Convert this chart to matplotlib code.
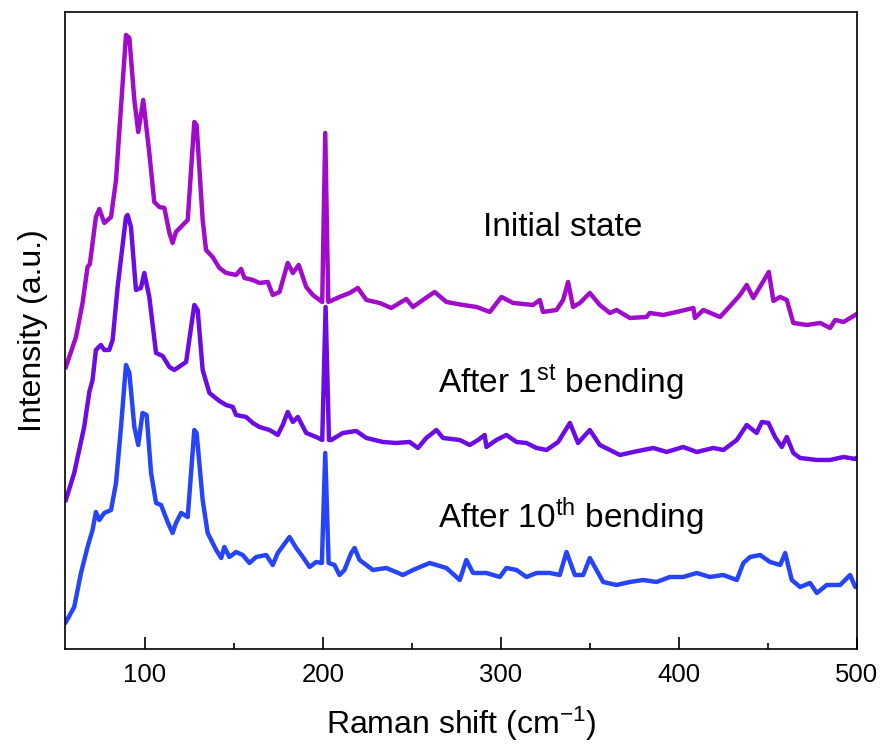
import matplotlib
matplotlib.use("Agg")
import matplotlib.pyplot as plt
from matplotlib.ticker import MultipleLocator

plt.rcParams['font.family'] = ['Liberation Sans', 'DejaVu Sans']
plt.rcParams['mathtext.fontset'] = 'custom'
plt.rcParams['mathtext.rm'] = 'Liberation Sans'
plt.rcParams['mathtext.it'] = 'Liberation Sans:italic'
plt.rcParams['mathtext.bf'] = 'Liberation Sans:bold'

# ---- data (Raman shift in cm^-1, stacked intensity in a.u.) ----
x_init = [55.5, 61.2, 64.9, 67.7, 69.0, 72.4, 74.3, 77.1, 80.9, 83.7, 86.5, 89.3, 91.2, 94.0, 96.2,
          99.0, 102.4, 105.2, 108.0, 110.9, 113.7, 115.5, 117.4, 124.0, 127.7, 129.0, 132.4, 134.3,
          138.0, 141.8, 145.6, 151.2, 154.0, 155.9, 160.6, 164.3, 169.0, 171.8, 175.6, 180.2, 183.1,
          186.4, 190.6, 194.3, 199.6, 201.3, 203.0, 205.6, 209.3, 215.0, 219.6, 224.4, 231.9, 238.4,
          243.1, 246.9, 250.6, 256.2, 262.8, 269.4, 278.7, 286.3, 293.8, 300.3, 306.9, 318.1, 321.9,
          323.7, 331.3, 335.0, 337.8, 340.6, 344.4, 350.0, 355.6, 361.3, 365.0, 372.5, 381.9, 383.7,
          391.3, 398.8, 408.2, 409.1, 413.8, 423.2, 427.9, 434.4, 438.2, 441.9, 445.6, 450.6, 453.2,
          457.0, 460.7, 464.4, 472.0, 479.5, 485.1, 487.9, 492.6, 499.2, 500.0]
y_init = [282, 312, 346, 382, 385, 432, 440, 426, 432, 469, 542, 614, 611, 549, 517,
          549, 496, 447, 442, 441, 416, 406, 417, 429, 527, 524, 429, 399,
          392, 381, 376, 374, 380, 371, 369, 366, 367, 354, 357, 386, 376,
          384, 362, 354, 347, 516, 347, 349, 352, 356, 361, 349, 346, 341,
          346, 350, 342, 349, 357, 347, 344, 342, 337, 352, 346, 344, 349,
          337, 339, 349, 367, 342, 346, 356, 344, 336, 339, 331, 332, 336,
          334, 337, 341, 331, 339, 332, 341, 354, 364, 351, 362, 377, 348,
          352, 349, 326, 324, 326, 321, 329, 327, 334, 335]

x_1st = [55.5, 60.2, 65.8, 68.7, 70.5, 72.4, 75.2, 77.1, 79.9, 81.8, 84.6, 89.3, 90.2, 92.1, 94.9,
         97.7, 99.6, 102.4, 106.2, 109.9, 113.7, 116.5, 123.1, 127.7, 129.6, 132.4, 136.2, 141.8,
         145.6, 149.3, 151.2, 156.8, 160.6, 164.3, 170.0, 174.6, 177.4, 180.2, 183.1, 185.9, 190.6,
         196.2, 199.6, 201.5, 203.4, 204.7, 211.2, 218.7, 224.4, 233.7, 241.2, 248.7, 253.4, 258.1,
         263.8, 267.5, 276.9, 282.5, 287.2, 290.9, 291.9, 297.5, 303.1, 308.8, 314.4, 320.0, 325.7,
         332.2, 338.8, 343.4, 350.0, 355.6, 361.3, 366.9, 374.4, 385.7, 393.2, 402.5, 410.1, 419.4,
         425.1, 432.6, 438.2, 443.8, 446.7, 450.4, 454.1, 457.9, 460.7, 464.4, 468.2, 477.6, 485.1,
         492.6, 499.2, 500.0]
y_1st = [149, 176, 222, 257, 269, 299, 304, 299, 299, 309, 362, 432, 434, 422, 359,
         361, 376, 352, 296, 293, 282, 279, 287, 344, 339, 279, 256, 248,
         244, 242, 234, 232, 226, 222, 219, 214, 224, 237, 227, 232, 216,
         212, 209, 342, 209, 209, 216, 218, 211, 207, 206, 207, 201, 211,
         219, 211, 209, 204, 209, 214, 202, 209, 214, 207, 206, 201, 199,
         207, 226, 206, 219, 204, 199, 194, 197, 201, 197, 202, 197, 201,
         199, 209, 224, 216, 227, 226, 212, 202, 212, 196, 191, 189, 189,
         192, 190, 191]

x_10th = [55.5, 60.2, 64.0, 67.7, 70.5, 72.4, 74.3, 77.1, 80.9, 83.7, 86.5, 89.3, 91.2, 94.0, 96.2,
          98.6, 100.9, 103.4, 106.2, 109.0, 112.7, 115.5, 117.4, 120.3, 124.0, 127.7, 129.0, 132.4,
          135.2, 140.0, 142.8, 144.6, 147.4, 151.2, 154.9, 158.7, 162.5, 168.1, 171.8, 174.6, 181.2,
          185.0, 188.7, 192.5, 196.2, 199.4, 201.3, 203.2, 206.5, 209.3, 212.1, 215.9, 217.8, 220.6,
          228.1, 235.6, 245.0, 250.6, 260.0, 269.4, 276.9, 280.6, 284.4, 291.9, 299.4, 303.1, 308.8,
          314.4, 320.0, 327.5, 333.1, 336.9, 341.6, 346.3, 350.0, 354.7, 357.5, 365.0, 372.5, 380.0,
          387.5, 395.0, 402.5, 410.1, 417.5, 425.0, 432.6, 436.3, 440.1, 445.7, 451.3, 457.0, 459.8,
          463.5, 468.2, 473.8, 477.6, 483.2, 490.7, 496.3, 499.2, 500.0]
y_10th = [27, 42, 76, 102, 119, 137, 129, 136, 139, 166, 222, 284, 276, 222, 204,
          236, 234, 176, 146, 144, 127, 116, 126, 136, 132, 219, 216, 149,
          116, 99, 91, 102, 92, 97, 94, 86, 92, 94, 84, 96, 112,
          101, 92, 82, 87, 86, 196, 86, 84, 74, 79, 96, 101, 89,
          79, 81, 74, 79, 86, 81, 69, 89, 76, 76, 72, 81, 79,
          72, 76, 76, 74, 97, 74, 74, 91, 76, 67, 64, 67, 69,
          67, 72, 72, 76, 72, 74, 69, 86, 92, 94, 87, 84, 96,
          69, 62, 66, 56, 64, 64, 74, 62, 63]

series_labels = ["Initial state", r"After 1$^{\mathrm{st}}$ bending", r"After 10$^{\mathrm{th}}$ bending"]
series_colors = ["#A00CCA", "#6C0CE4", "#2644FA"]
label_pos = [(289.8, 421), (264.5, 266), (264.5, 132)]

fig = plt.figure(figsize=(8.85, 7.47), dpi=100)
ax = fig.add_axes([0.0734, 0.1312, 0.8946, 0.8528])

for xs, ys, c in [(x_10th, y_10th, series_colors[2]), (x_1st, y_1st, series_colors[1]),
                  (x_init, y_init, series_colors[0])]:
    ax.plot(xs, ys, color=c, lw=3.2, solid_joinstyle='round')

for (tx, ty), lab in zip(label_pos, series_labels):
    ax.text(tx, ty, lab, fontsize=24, ha='left', va='center', color='black')

ax.set_xlim(55, 500)
ax.set_ylim(0, 637)
ax.set_yticks([])
ax.xaxis.set_major_locator(MultipleLocator(100))
ax.xaxis.set_minor_locator(MultipleLocator(50))
ax.tick_params(axis='x', which='major', direction='in', length=8.5, width=1.2, labelsize=18.5, pad=10)
ax.tick_params(axis='x', which='minor', direction='in', length=4, width=1.2)
for s in ax.spines.values():
    s.set_linewidth(1.2)

ax.set_xlabel(r"Raman shift (cm$^{-1}$)", fontsize=23, labelpad=13)
ax.set_ylabel("Intensity (a.u.)", fontsize=23, labelpad=12)

fig.savefig("out.png", dpi=100)
